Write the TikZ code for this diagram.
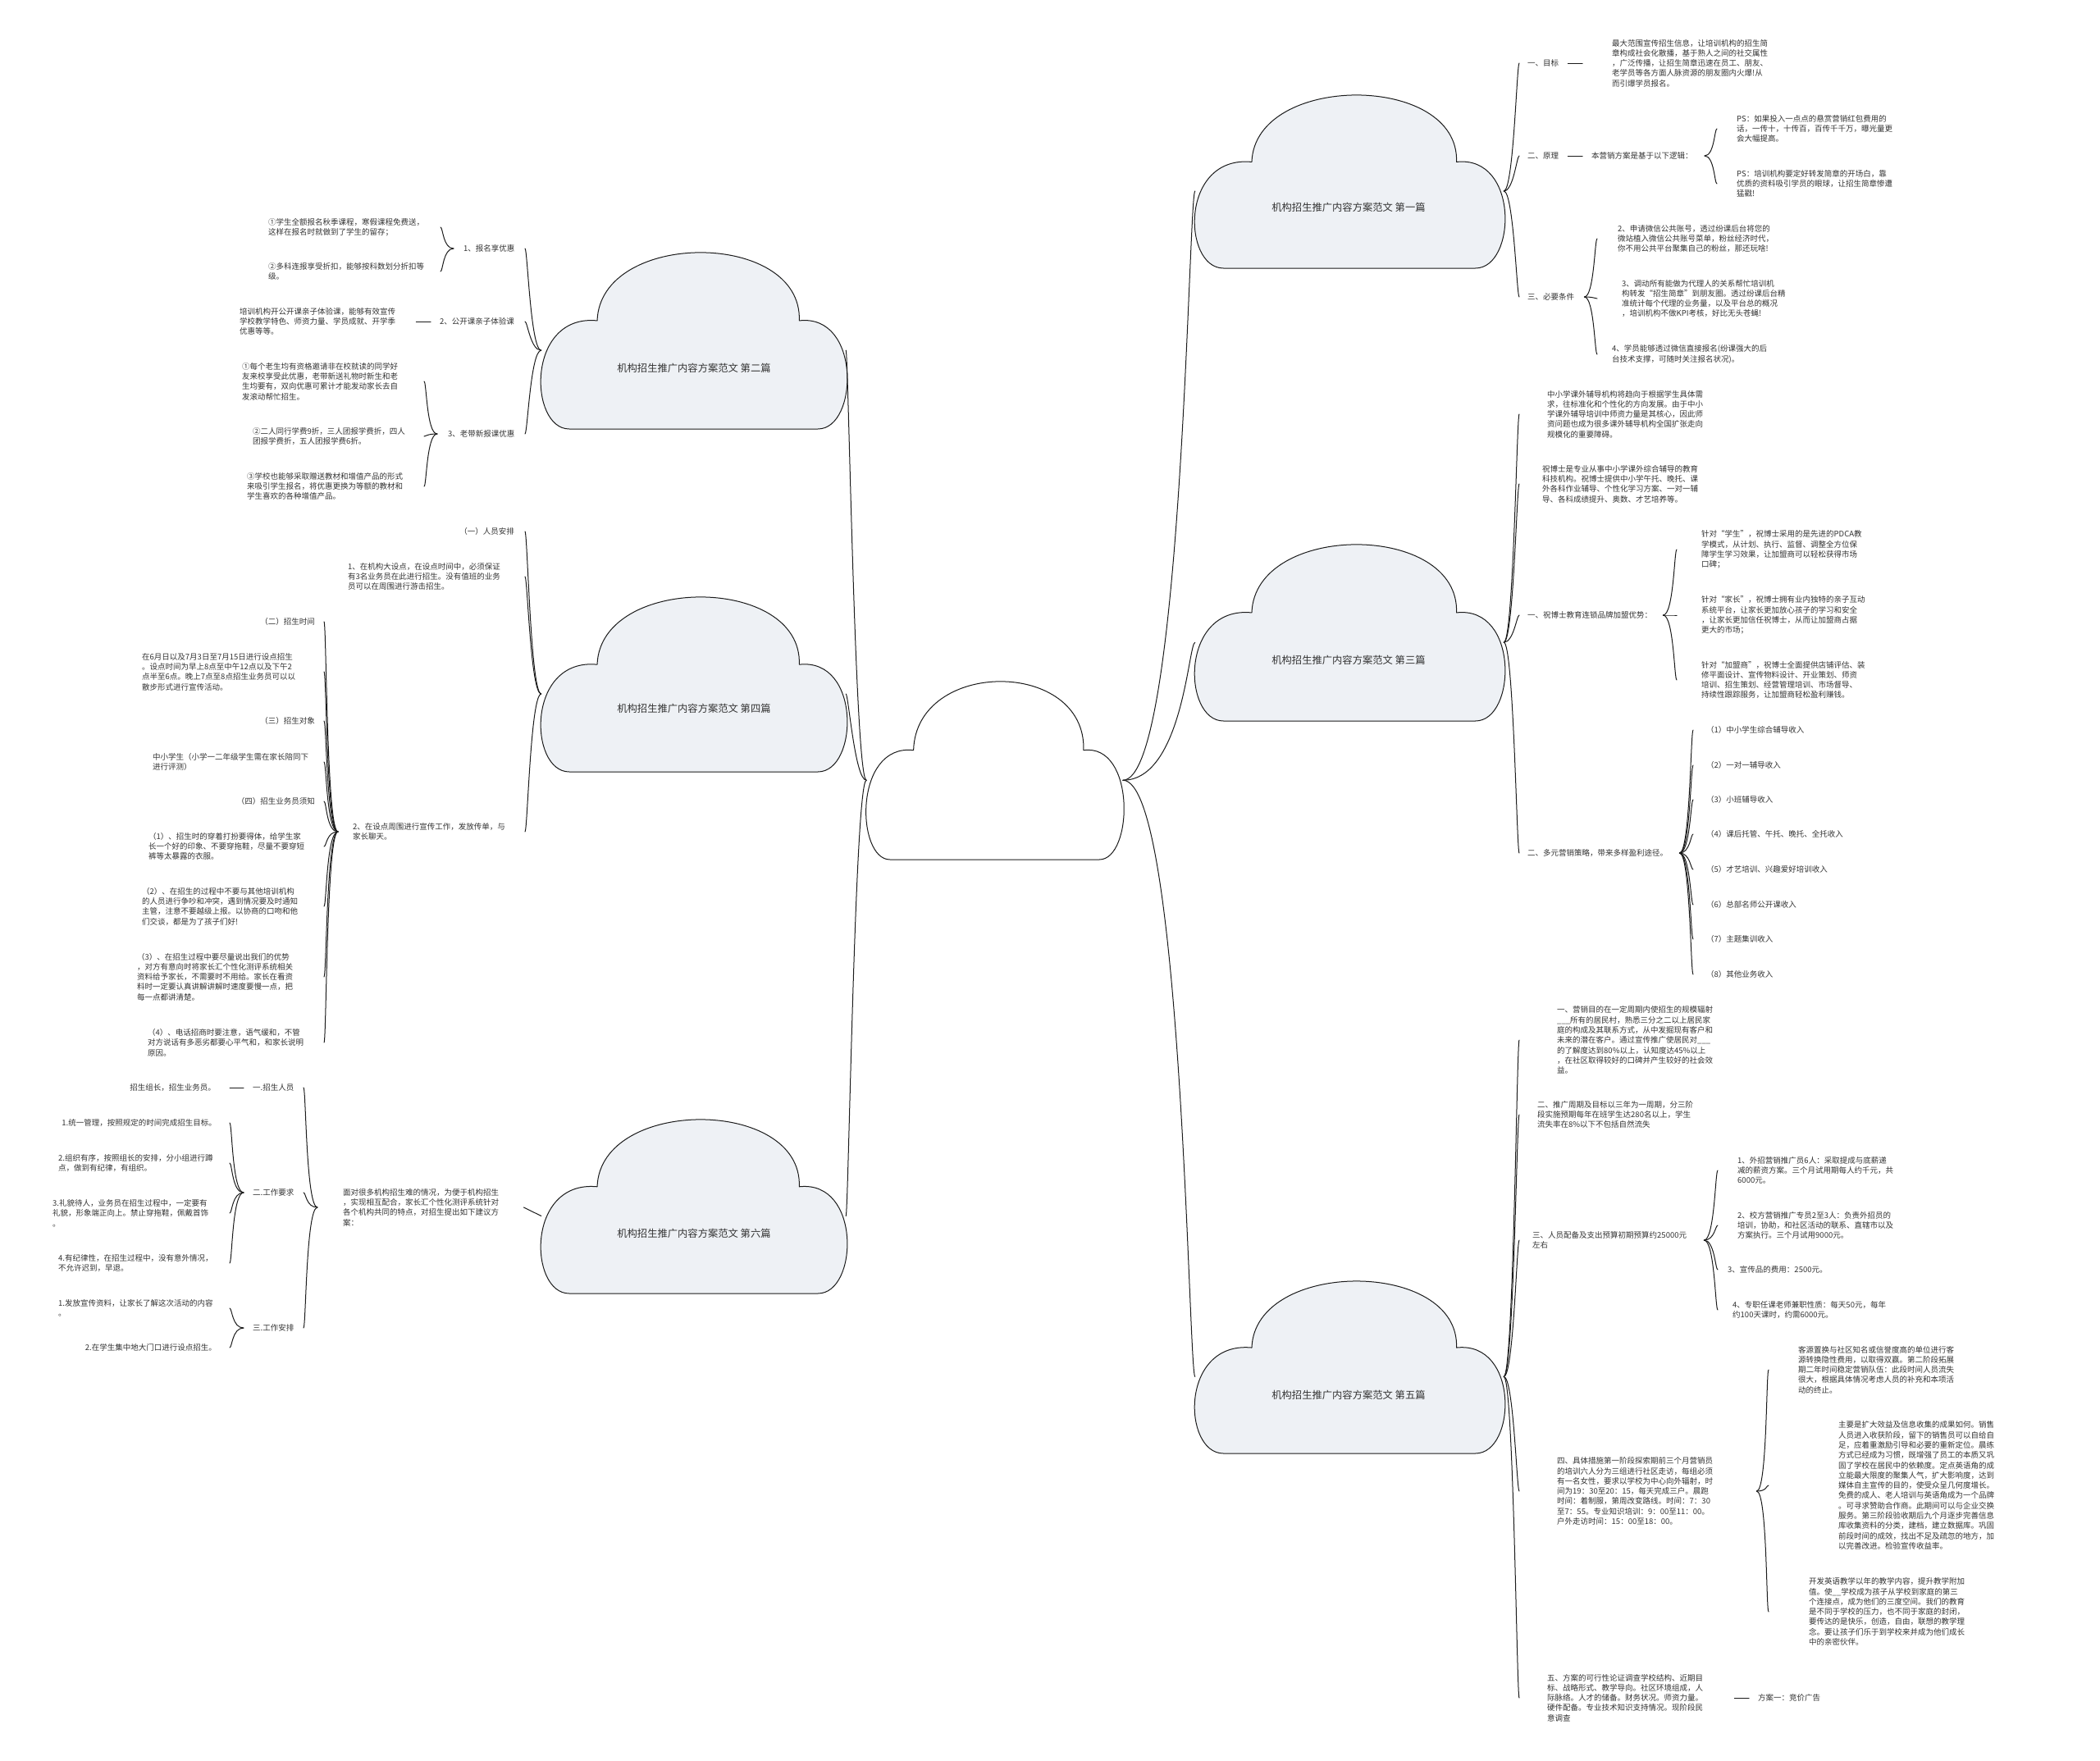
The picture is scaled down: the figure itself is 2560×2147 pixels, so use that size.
\documentclass[tikz,border=0pt]{standalone}
\usepackage{fontspec}
\setmainfont{Noto Sans CJK SC}
\usepackage{tikz}
\usetikzlibrary{calc}
\definecolor{Ink}{HTML}{333333}
\definecolor{Edge}{HTML}{1A1A1A}
\definecolor{CloudFill}{HTML}{EEF1F5}

% cloud outline: name, south-west corner, width, height, fill
\newcommand{\cloudat}[5]{%
  \begin{scope}[shift={#2},x=#3pt,y=#4pt]
    \draw[cloudline,fill=#5] (0.1,0) -- (0.9,0)
      .. controls (1.03,0) and (1.04,0.66) .. (0.84,0.62)
      .. controls (0.85,1.14) and (0.2,1.14) .. (0.19,0.62)
      .. controls (-0.04,0.66) and (-0.03,0) .. (0.1,0) -- cycle;
    \coordinate (#1-e) at (0.99,0.45);
    \coordinate (#1-w) at (0.01,0.45);
  \end{scope}}
% curved branch from a parent point to a child point
\newcommand{\linkto}[4]{\draw[link] (#1) .. controls +(#3,0) and +(#4,0) .. (#2);}

\begin{document}
\begin{tikzpicture}[x=1pt,y=-1pt,
    txt/.style={inner sep=0pt,align=left,anchor=west,font=\fontsize{9.5}{12.3}\selectfont,text=Ink},
    lbl/.style={inner sep=0pt,font=\fontsize{12.3}{14}\selectfont,text=Ink},
    link/.style={draw=Edge,line width=1pt,line cap=round},
    cloudline/.style={draw=Edge,line width=1pt,line join=round}]
  \useasboundingbox (0,0) rectangle (2560,2147);

  % clouds
  \cloudat{hub}{(1053,1048)}{319}{215}{white}
  \cloudat{p1}{(1453,327)}{384}{209}{CloudFill}
  \cloudat{p3}{(1453,879)}{384}{213}{CloudFill}
  \cloudat{p5}{(1453,1772)}{384}{208}{CloudFill}
  \cloudat{p2}{(656,523)}{379}{213}{CloudFill}
  \cloudat{p4}{(656,941)}{379}{211}{CloudFill}
  \cloudat{p6}{(656,1577)}{379}{210}{CloudFill}
  \node[lbl] (p1t) at (1644,253) {机构招生推广内容方案范文 第一篇};
  \node[lbl] (p3t) at (1644,805) {机构招生推广内容方案范文 第三篇};
  \node[lbl] (p5t) at (1644,1701) {机构招生推广内容方案范文 第五篇};
  \node[lbl] (p2t) at (846,449) {机构招生推广内容方案范文 第二篇};
  \node[lbl] (p4t) at (846,864) {机构招生推广内容方案范文 第四篇};
  \node[lbl] (p6t) at (846,1504) {机构招生推广内容方案范文 第六篇};

  \linkto{hub-e}{p1-w}{73}{-8}
  \linkto{hub-e}{p3-w}{73}{-8}
  \linkto{hub-e}{p5-w}{73}{-8}
  \linkto{hub-w}{p2-e}{-14}{3}
  \linkto{hub-w}{p4-e}{-14}{3}
  \linkto{hub-w}{p6-e}{-14}{3}

  % tip columns
  \coordinate (kR) at (1852,0);
  \coordinate (kL) at (640,0);

  % 第一篇
  \node[txt] (r1) at (1862,77) {一、目标};
  \node[txt] (r1a) at (1965,77) {最大范围宣传招生信息，让培训机构的招生简\\章构成社会化散播，基于熟人之间的社交属性\\，广泛传播，让招生简章迅速在员工、朋友、\\老学员等各方面人脉资源的朋友圈内火爆!从\\而引爆学员报名。};
  \node[txt] (r2) at (1862,190) {二、原理};
  \node[txt] (r2a) at (1940,190) {本营销方案是基于以下逻辑：};
  \node[txt] (r2b) at (2117,157) {PS：如果投入一点点的悬赏营销红包费用的\\话，一传十，十传百，百传千千万，曝光量更\\会大幅提高。};
  \node[txt] (r2c) at (2117,224) {PS：培训机构要定好转发简章的开场白，靠\\优质的资料吸引学员的眼球，让招生简章惨遭\\猛戳!};
  \node[txt] (r3) at (1862,362) {三、必要条件};
  \node[txt] (r3a) at (1972,291) {2、申请微信公共账号，透过纷课后台将您的\\微站植入微信公共账号菜单，粉丝经济时代，\\你不用公共平台聚集自己的粉丝，那还玩啥!};
  \node[txt] (r3b) at (1977,364) {3、调动所有能做为代理人的关系帮忙培训机\\构转发“招生简章”到朋友圈。透过纷课后台精\\准统计每个代理的业务量，以及平台总的概况\\，培训机构不做KPI考核，好比无头苍蝇!};
  \node[txt] (r3c) at (1965,432) {4、学员能够透过微信直接报名(纷课强大的后\\台技术支撑，可随时关注报名状况)。};
  \coordinate (kr2) at (2093,0);
  \coordinate (kr3) at (1947,0);
  \linkto{p1-e}{kR |- r1.west}{12}{-3}
  \linkto{p1-e}{kR |- r2.west}{12}{-3}
  \linkto{p1-e}{kR |- r3.west}{12}{-3}
  \draw[link] ([xshift=11pt]r1.east) -- ([xshift=-36pt]r1a.west);
  \draw[link] ([xshift=11pt]r2.east) -- ([xshift=-11pt]r2a.west);
  \linkto{[xshift=14pt]r2a.east}{kr2 |- r2b.west}{12}{-3}
  \linkto{[xshift=14pt]r2a.east}{kr2 |- r2c.west}{12}{-3}
  \linkto{[xshift=12pt]r3.east}{kr3 |- r3a.west}{12}{-3}
  \linkto{[xshift=12pt]r3.east}{kr3 |- r3b.west}{12}{-3}
  \linkto{[xshift=12pt]r3.east}{kr3 |- r3c.west}{12}{-3}

  % 第三篇
  \node[txt] (t1) at (1886,505) {中小学课外辅导机构将趋向于根据学生具体需\\求，往标准化和个性化的方向发展。由于中小\\学课外辅导培训中师资力量是其核心，因此师\\资问题也成为很多课外辅导机构全国扩张走向\\规模化的重要障碍。};
  \node[txt] (t2) at (1880,590) {祝博士是专业从事中小学课外综合辅导的教育\\科技机构。祝博士提供中小学午托、晚托、课\\外各科作业辅导、个性化学习方案、一对一辅\\导、各科成绩提升、奥数、才艺培养等。};
  \node[txt] (t3) at (1862,750) {一、祝博士教育连锁品牌加盟优势：};
  \node[txt] (t3a) at (2074,670) {针对“学生”，祝博士采用的是先进的PDCA教\\学模式，从计划、执行、监督、调整全方位保\\障学生学习效果，让加盟商可以轻松获得市场\\口碑；};
  \node[txt] (t3b) at (2074,750) {针对“家长”，祝博士拥有业内独特的亲子互动\\系统平台，让家长更加放心孩子的学习和安全\\，让家长更加信任祝博士，从而让加盟商占据\\更大的市场；};
  \node[txt] (t3c) at (2074,829) {针对“加盟商”，祝博士全面提供店铺评估、装\\修平面设计、宣传物料设计、开业策划、师资\\培训、招生策划、经营管理培训、市场督导、\\持续性跟踪服务，让加盟商轻松盈利赚钱。};
  \node[txt] (t4) at (1862,1040) {二、多元营销策略，带来多样盈利途径。};
  \node[txt] (t4a) at (2080,890) {（1）中小学生综合辅导收入};
  \node[txt] (t4b) at (2080,933) {（2）一对一辅导收入};
  \node[txt] (t4c) at (2080,975) {（3）小班辅导收入};
  \node[txt] (t4d) at (2080,1017) {（4）课后托管、午托、晚托、全托收入};
  \node[txt] (t4e) at (2080,1060) {（5）才艺培训、兴趣爱好培训收入};
  \node[txt] (t4f) at (2080,1103) {（6）总部名师公开课收入};
  \node[txt] (t4g) at (2080,1145) {（7）主题集训收入};
  \node[txt] (t4h) at (2080,1188) {（8）其他业务收入};
  \coordinate (kt3) at (2044,0);
  \coordinate (kt4) at (2064,0);
  \linkto{p3-e}{kR |- t1.west}{12}{-3}
  \linkto{p3-e}{kR |- t2.west}{12}{-3}
  \linkto{p3-e}{kR |- t3.west}{12}{-3}
  \linkto{p3-e}{kR |- t4.west}{12}{-3}
  \linkto{[xshift=13pt]t3.east}{kt3 |- t3a.west}{13}{-3}
  \linkto{[xshift=13pt]t3.east}{kt3 |- t3b.west}{13}{-3}
  \linkto{[xshift=13pt]t3.east}{kt3 |- t3c.west}{13}{-3}
  \linkto{[xshift=14pt]t4.east}{kt4 |- t4a.west}{13}{-3}
  \linkto{[xshift=14pt]t4.east}{kt4 |- t4b.west}{13}{-3}
  \linkto{[xshift=14pt]t4.east}{kt4 |- t4c.west}{13}{-3}
  \linkto{[xshift=14pt]t4.east}{kt4 |- t4d.west}{13}{-3}
  \linkto{[xshift=14pt]t4.east}{kt4 |- t4e.west}{13}{-3}
  \linkto{[xshift=14pt]t4.east}{kt4 |- t4f.west}{13}{-3}
  \linkto{[xshift=14pt]t4.east}{kt4 |- t4g.west}{13}{-3}
  \linkto{[xshift=14pt]t4.east}{kt4 |- t4h.west}{13}{-3}

  % 第五篇
  \node[txt] (f1) at (1898,1268) {一、营销目的在一定周期内使招生的规模辐射\\\_\_\_所有的居民村，熟悉三分之二以上居民家\\庭的构成及其联系方式，从中发掘现有客户和\\未来的潜在客户。通过宣传推广使居民对\_\_\_\\的了解度达到80\%以上，认知度达45\%以上\\，在社区取得较好的口碑并产生较好的社会效\\益。};
  \node[txt] (f2) at (1874,1359) {二、推广周期及目标以三年为一周期，分三阶\\段实施预期每年在班学生达280名以上，学生\\流失率在8\%以下不包括自然流失};
  \node[txt] (f3) at (1868,1512) {三、人员配备及支出预算初期预算约25000元\\左右};
  \node[txt] (f3a) at (2118,1427) {1、外招营销推广员6人：采取提成与底薪递\\减的薪资方案。三个月试用期每人约千元，共\\6000元。};
  \node[txt] (f3b) at (2118,1494) {2、校方营销推广专员2至3人：负责外招员的\\培训，协助，和社区活动的联系、直辖市以及\\方案执行。三个月试用9000元。};
  \node[txt] (f3c) at (2106,1548) {3、宣传品的费用：2500元。};
  \node[txt] (f3d) at (2112,1597) {4、专职任课老师兼职性质：每天50元，每年\\约100天课时，约需6000元。};
  \node[txt] (f4) at (1898,1818) {四、具体措施第一阶段探索期前三个月营销员\\的培训六人分为三组进行社区走访，每组必须\\有一名女性，要求以学校为中心向外辐射，时\\间为19：30至20：15，每天完成三户。晨跑\\时间：着制服，第周改变路线。时间：7：30\\至7：55。专业知识培训：9：00至11：00。\\户外走访时间：15：00至18：00。};
  \node[txt] (f4a) at (2192,1670) {客源置换与社区知名或信誉度高的单位进行客\\源转换隐性费用，以取得双赢。第二阶段拓展\\期二年时间稳定营销队伍：此段时间人员流失\\很大，根据具体情况考虑人员的补充和本项活\\动的终止。};
  \node[txt] (f4b) at (2241,1811) {主要是扩大效益及信息收集的成果如何。销售\\人员进入收获阶段，留下的销售员可以自给自\\足，应着重激励引导和必要的重新定位。晨练\\方式已经成为习惯，既增强了员工的本质又巩\\固了学校在居民中的依赖度。定点英语角的成\\立能最大限度的聚集人气，扩大影响度，达到\\媒体自主宣传的目的，使受众呈几何度增长。\\免费的成人、老人培训与英语角成为一个品牌\\。可寻求赞助合作商。此期间可以与企业交换\\服务。第三阶段验收期后九个月逐步完善信息\\库收集资料的分类，建档，建立数据库。巩固\\前段时间的成效，找出不足及疏忽的地方，加\\以完善改进。检验宣传收益率。};
  \node[txt] (f4c) at (2205,1965) {开发英语教学以年的教学内容，提升教学附加\\值。使\_\_学校成为孩子从学校到家庭的第三\\个连接点，成为他们的三度空间。我们的教育\\是不同于学校的压力，也不同于家庭的封闭，\\要传达的是快乐，创造，自由，联想的教学理\\念。要让孩子们乐于到学校来并成为他们成长\\中的亲密伙伴。};
  \node[txt] (f5) at (1886,2070) {五、方案的可行性论证调查学校结构、近期目\\标、战略形式、教学导向。社区环境组成，人\\际脉络。人才的储备。财务状况。师资力量。\\硬件配备。专业技术知识支持情况。现阶段民\\意调查};
  \node[txt] (f5a) at (2143,2070) {方案一：竞价广告};
  \coordinate (kf3) at (2094,0);
  \coordinate (kf4) at (2156,0);
  \linkto{p5-e}{kR |- f1.west}{12}{-3}
  \linkto{p5-e}{kR |- f2.west}{12}{-3}
  \linkto{p5-e}{kR |- f3.west}{12}{-3}
  \linkto{p5-e}{kR |- f4.west}{12}{-3}
  \linkto{p5-e}{kR |- f5.west}{12}{-3}
  \linkto{[xshift=21pt]f3.east}{kf3 |- f3a.west}{13}{-3}
  \linkto{[xshift=21pt]f3.east}{kf3 |- f3b.west}{13}{-3}
  \linkto{[xshift=21pt]f3.east}{kf3 |- f3c.west}{13}{-3}
  \linkto{[xshift=21pt]f3.east}{kf3 |- f3d.west}{13}{-3}
  \linkto{[xshift=53pt]f4.east}{kf4 |- f4a.west}{13}{-3}
  \linkto{[xshift=53pt]f4.east}{kf4 |- f4b.west}{13}{-3}
  \linkto{[xshift=53pt]f4.east}{kf4 |- f4c.west}{13}{-3}
  \draw[link] ([xshift=38pt]f5.east) -- ([xshift=-11pt]f5a.west);

  % 第二篇
  \node[txt] (s1) at (565,303) {1、报名享优惠};
  \node[txt] (s1a) at (327,277) {①学生全额报名秋季课程，寒假课程免费送，\\这样在报名时就做到了学生的留存；};
  \node[txt] (s1b) at (327,331) {②多科连报享受折扣，能够按科数划分折扣等\\级。};
  \node[txt] (s2) at (536,392) {2、公开课亲子体验课};
  \node[txt] (s2a) at (292,392) {培训机构开公开课亲子体验课，能够有效宣传\\学校教学特色、师资力量、学员成就、开学季\\优惠等等。};
  \node[txt] (s3) at (546,529) {3、老带新报课优惠};
  \node[txt] (s3a) at (295,465) {①每个老生均有资格邀请非在校就读的同学好\\友来校享受此优惠，老带新送礼物时新生和老\\生均要有，双向优惠可累计才能发动家长去自\\发滚动帮忙招生。};
  \node[txt] (s3b) at (308,532) {②二人同行学费9折，三人团报学费折，四人\\团报学费折，五人团报学费6折。};
  \node[txt] (s3c) at (301,593) {③学校也能够采取赠送教材和增值产品的形式\\来吸引学生报名，将优惠更换为等额的教材和\\学生喜欢的各种增值产品。};
  \coordinate (ks1) at (537,0);
  \coordinate (ks3) at (517,0);
  \linkto{p2-w}{kL |- s1.east}{-13}{3}
  \linkto{p2-w}{kL |- s2.east}{-13}{3}
  \linkto{p2-w}{kL |- s3.east}{-13}{3}
  \linkto{[xshift=-12pt]s1.west}{ks1 |- s1a.east}{-13}{3}
  \linkto{[xshift=-12pt]s1.west}{ks1 |- s1b.east}{-13}{3}
  \draw[link] ([xshift=25pt]s2a.east) -- ([xshift=-11pt]s2.west);
  \linkto{[xshift=-13pt]s3.west}{ks3 |- s3a.east}{-13}{3}
  \linkto{[xshift=-13pt]s3.west}{ks3 |- s3b.east}{-13}{3}
  \linkto{[xshift=-13pt]s3.west}{ks3 |- s3c.east}{-13}{3}

  % 第四篇
  \node[txt,anchor=east] (u1) at (627,648) {（一）人员安排};
  \node[txt] (u2) at (424,703) {1、在机构大设点，在设点时间中，必须保证\\有3名业务员在此进行招生。没有值班的业务\\员可以在周围进行游击招生。};
  \node[txt] (u3) at (430,1014) {2、在设点周围进行宣传工作，发放传单，与\\家长聊天。};
  \node[txt,anchor=east] (u3a) at (384,758) {（二）招生时间};
  \node[txt] (u3b) at (173,819) {在6月日以及7月3日至7月15日进行设点招生\\。设点时间为早上8点至中午12点以及下午2\\点半至6点。晚上7点至8点招生业务员可以以\\散步形式进行宣传活动。};
  \node[txt,anchor=east] (u3c) at (384,879) {（三）招生对象};
  \node[txt] (u3d) at (186,929) {中小学生（小学一二年级学生需在家长陪同下\\进行评测）};
  \node[txt,anchor=east] (u3e) at (384,977) {（四）招生业务员须知};
  \node[txt] (u3f) at (181,1032) {（1）、招生时的穿着打扮要得体，给学生家\\长一个好的印象、不要穿拖鞋，尽量不要穿短\\裤等太暴露的衣服。};
  \node[txt] (u3g) at (173,1105) {（2）、在招生的过程中不要与其他培训机构\\的人员进行争吵和冲突，遇到情况要及时通知\\主管，注意不要越级上报。以协商的口吻和他\\们交谈，都是为了孩子们好!};
  \node[txt] (u3h) at (167,1191) {（3）、在招生过程中要尽量说出我们的优势\\，对方有意向时将家长汇个性化测评系统相关\\资料给予家长，不需要时不用给。家长在看资\\料时一定要认真讲解讲解时速度要慢一点，把\\每一点都讲清楚。};
  \node[txt] (u3i) at (180,1271) {（4）、电话招商时要注意，语气缓和，不管\\对方说话有多恶劣都要心平气和，和家长说明\\原因。};
  \coordinate (ku3) at (395,0);
  \linkto{p4-w}{kL |- u1.east}{-13}{3}
  \linkto{p4-w}{kL |- u2.east}{-13}{3}
  \linkto{p4-w}{kL |- u3.east}{-13}{3}
  \linkto{[xshift=-18pt]u3.west}{ku3 |- u3a.east}{-14}{3}
  \linkto{[xshift=-18pt]u3.west}{ku3 |- u3b.east}{-14}{3}
  \linkto{[xshift=-18pt]u3.west}{ku3 |- u3c.east}{-14}{3}
  \linkto{[xshift=-18pt]u3.west}{ku3 |- u3d.east}{-14}{3}
  \linkto{[xshift=-18pt]u3.west}{ku3 |- u3e.east}{-14}{3}
  \linkto{[xshift=-18pt]u3.west}{ku3 |- u3f.east}{-14}{3}
  \linkto{[xshift=-18pt]u3.west}{ku3 |- u3g.east}{-14}{3}
  \linkto{[xshift=-18pt]u3.west}{ku3 |- u3h.east}{-14}{3}
  \linkto{[xshift=-18pt]u3.west}{ku3 |- u3i.east}{-14}{3}

  % 第六篇
  \node[txt] (w0) at (418,1472) {面对很多机构招生难的情况，为便于机构招生\\，实现相互配合，家长汇个性化测评系统针对\\各个机构共同的特点，对招生提出如下建议方\\案：};
  \node[txt] (w1) at (308,1326) {一.招生人员};
  \node[txt,anchor=east] (w1a) at (263,1326) {招生组长，招生业务员。};
  \node[txt] (w2) at (308,1454) {二.工作要求};
  \node[txt,anchor=east] (w2a) at (264,1369) {1.统一管理，按照规定的时间完成招生目标。};
  \node[txt] (w2b) at (71,1418) {2.组织有序，按照组长的安排，分小组进行蹲\\点，做到有纪律，有组织。};
  \node[txt] (w2c) at (64,1479) {3.礼貌待人，业务员在招生过程中，一定要有\\礼貌，形象端正向上。禁止穿拖鞋，佩戴首饰\\。};
  \node[txt] (w2d) at (71,1540) {4.有纪律性，在招生过程中，没有意外情况，\\不允许迟到，早退。};
  \node[txt] (w3) at (308,1619) {三.工作安排};
  \node[txt] (w3a) at (71,1595) {1.发放宣传资料，让家长了解这次活动的内容\\。};
  \node[txt,anchor=east] (w3b) at (264,1643) {2.在学生集中地大门口进行设点招生。};
  \coordinate (kw0) at (370,0);
  \coordinate (kw2) at (280,0);
  \draw[link] (p6-w) -- ([xshift=30pt]w0.east);
  \linkto{[xshift=-31pt]w0.west}{kw0 |- w1.east}{-14}{3}
  \linkto{[xshift=-31pt]w0.west}{kw0 |- w2.east}{-14}{3}
  \linkto{[xshift=-31pt]w0.west}{kw0 |- w3.east}{-14}{3}
  \draw[link] ([xshift=-11pt]w1.west) -- ([xshift=17pt]w1a.east);
  \linkto{[xshift=-11pt]w2.west}{kw2 |- w2a.east}{-14}{3}
  \linkto{[xshift=-11pt]w2.west}{kw2 |- w2b.east}{-14}{3}
  \linkto{[xshift=-11pt]w2.west}{kw2 |- w2c.east}{-14}{3}
  \linkto{[xshift=-11pt]w2.west}{kw2 |- w2d.east}{-14}{3}
  \linkto{[xshift=-11pt]w3.west}{kw2 |- w3a.east}{-14}{3}
  \linkto{[xshift=-11pt]w3.west}{kw2 |- w3b.east}{-14}{3}
\end{tikzpicture}
\end{document}
